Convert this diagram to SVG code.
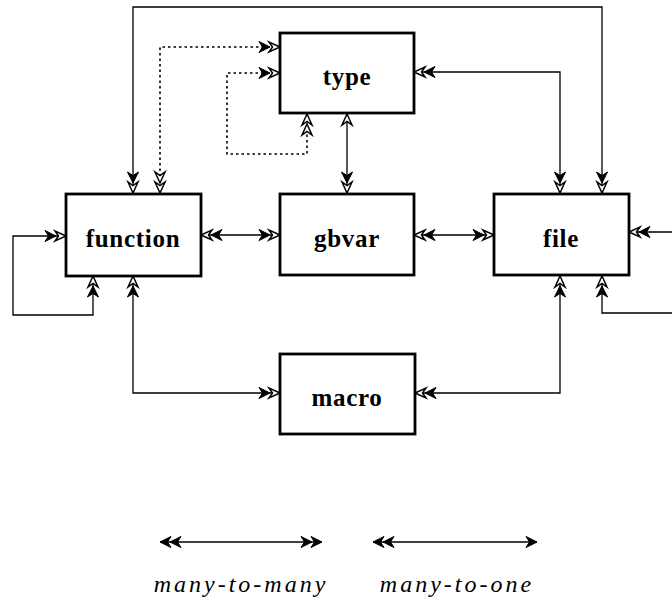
<svg xmlns="http://www.w3.org/2000/svg" width="672" height="600" viewBox="0 0 672 600">
<style>
.box{fill:#fff;stroke:#000;stroke-width:2.8}
.lbl{font-family:"Liberation Serif",serif;font-weight:bold;font-size:25px;letter-spacing:0.7px;text-anchor:middle;fill:#000}
.leg{font-family:"Liberation Serif",serif;font-style:italic;font-size:24px;letter-spacing:3px;text-anchor:middle;fill:#000}
.c{fill:none;stroke:#000;stroke-width:1.3}
.d{fill:none;stroke:#000;stroke-width:1.6;stroke-dasharray:2.5 3}
.mm{marker-start:url(#mm);marker-end:url(#mm)}
</style>
<defs>
<marker id="mm" viewBox="-24 -7 25 14" markerWidth="25" markerHeight="14" refX="0" refY="0" markerUnits="userSpaceOnUse" orient="auto-start-reverse" overflow="visible">
<path d="M-10,0 L-21,-5.5 L-17.5,0 L-21,5.5 Z" fill="#000" stroke="#000" stroke-width="1"/>
<path d="M0,0 L-11,-5 L-7.5,0 L-11,5 Z" fill="#fff" stroke="#000" stroke-width="1.5"/>
</marker>
<marker id="do" viewBox="-24 -7 25 14" markerWidth="25" markerHeight="14" refX="0" refY="0" markerUnits="userSpaceOnUse" orient="auto-start-reverse" overflow="visible">
<path d="M-10,0 L-21,-5 L-17.5,0 L-21,5 Z" fill="#fff" stroke="#000" stroke-width="1.5"/>
<path d="M0,0 L-11,-5 L-7.5,0 L-11,5 Z" fill="#fff" stroke="#000" stroke-width="1.5"/>
</marker>
<marker id="dd" viewBox="-24 -7 25 14" markerWidth="25" markerHeight="14" refX="0" refY="0" markerUnits="userSpaceOnUse" orient="auto-start-reverse" overflow="visible">
<path d="M-10,0 L-21,-5.5 L-17.5,0 L-21,5.5 Z" fill="#000" stroke="#000" stroke-width="1"/>
<path d="M0,0 L-11,-5.5 L-7.5,0 L-11,5.5 Z" fill="#000" stroke="#000" stroke-width="1"/>
</marker>
<marker id="s1" viewBox="-13 -7 14 14" markerWidth="14" markerHeight="14" refX="0" refY="0" markerUnits="userSpaceOnUse" orient="auto-start-reverse" overflow="visible">
<path d="M0,0 L-11,-5.5 L-7.5,0 L-11,5.5 Z" fill="#000" stroke="#000" stroke-width="1"/>
</marker>
<marker id="s1o" viewBox="-13 -7 14 14" markerWidth="14" markerHeight="14" refX="0" refY="0" markerUnits="userSpaceOnUse" orient="auto-start-reverse" overflow="visible">
<path d="M0,0 L-11,-5 L-7.5,0 L-11,5 Z" fill="#fff" stroke="#000" stroke-width="1.5"/>
</marker>
</defs>
<rect width="672" height="600" fill="#fff"/>
<g id="connectors">
<path class="c mm" d="M133,193 V7 H602 V193"/>
<path class="d" d="M160,193 V47 H280" marker-start="url(#do)" marker-end="url(#mm)"/>
<path class="d" d="M280,73 H227 V154 H307 V114" marker-start="url(#mm)" marker-end="url(#do)"/>
<path class="c" d="M347,114 V193" marker-start="url(#s1o)" marker-end="url(#mm)"/>
<path class="c mm" d="M414,72 H560 V193"/>
<path class="c mm" d="M201,235 H280"/>
<path class="c mm" d="M414,235 H494"/>
<path class="c mm" d="M66,236 H13 V315 H93 V276"/>
<path class="c mm" d="M133,276 V393 H280"/>
<path class="c mm" d="M560,276 V393 H415"/>
<path class="c" d="M629,232 H672" marker-start="url(#mm)"/>
<path class="c" d="M602,276 V313 H672" marker-start="url(#mm)"/>
</g>
<g id="type"><rect class="box" x="280" y="33" width="134" height="80"/><text class="lbl" x="347" y="85">type</text></g>
<g id="function"><rect class="box" x="66" y="194" width="135" height="82"/><text class="lbl" x="133" y="247">function</text></g>
<g id="gbvar"><rect class="box" x="280" y="194" width="134" height="81"/><text class="lbl" x="347" y="247">gbvar</text></g>
<g id="file"><rect class="box" x="494" y="194" width="135" height="81"/><text class="lbl" x="561" y="247">file</text></g>
<g id="macro"><rect class="box" x="280" y="354" width="135" height="80"/><text class="lbl" x="347" y="406">macro</text></g>
<g id="legend">
<path class="c" d="M160,542 H322" marker-start="url(#dd)" marker-end="url(#dd)"/>
<path class="c" d="M373,542 H537" marker-start="url(#dd)" marker-end="url(#s1)"/>
<text class="leg" x="241" y="592">many-to-many</text>
<text class="leg" x="457" y="592">many-to-one</text>
</g>
</svg>
